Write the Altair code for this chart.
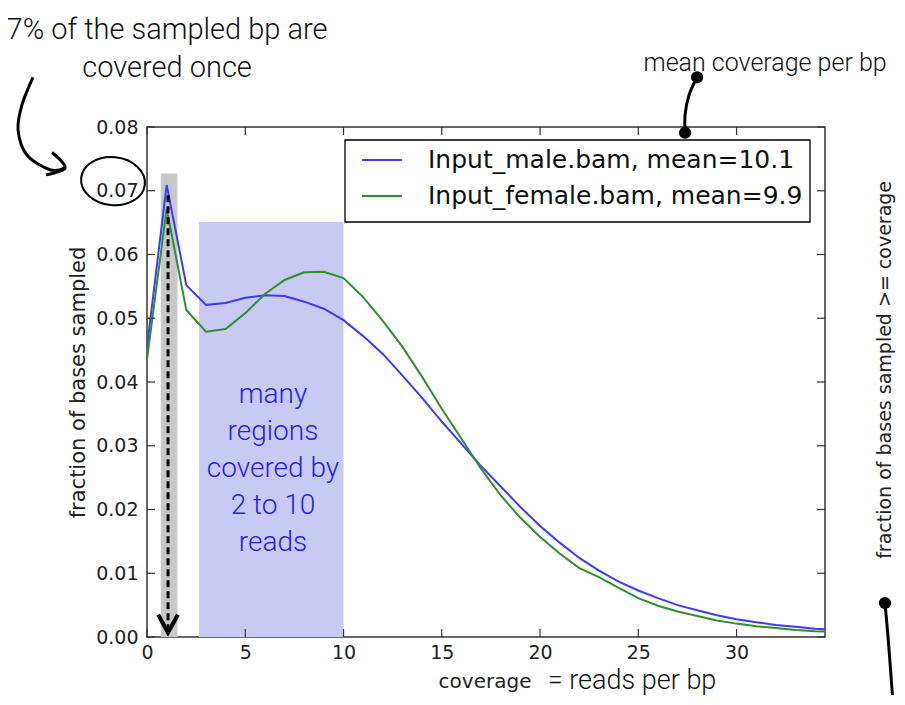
import altair as alt
import pandas as pd

# ---- data ----
coverage = list(range(0, 36))
male = [0.0455, 0.0709, 0.0552, 0.0521, 0.0524, 0.0532, 0.0536, 0.0535, 0.0526, 0.0515,
        0.0497, 0.0472, 0.0444, 0.0410, 0.0375, 0.0338, 0.0303, 0.0268, 0.0236, 0.0204,
        0.0174, 0.0148, 0.0124, 0.0104, 0.0087, 0.0073, 0.0061, 0.0050, 0.0042, 0.0034,
        0.0028, 0.0023, 0.0019, 0.0016, 0.0013, 0.0011]
female = [0.0435, 0.0672, 0.0513, 0.0479, 0.0483, 0.0508, 0.0538, 0.0560, 0.0572, 0.0573,
          0.0563, 0.0533, 0.0496, 0.0455, 0.0408, 0.0358, 0.0311, 0.0264, 0.0222, 0.0187,
          0.0157, 0.0131, 0.0108, 0.0094, 0.0077, 0.0061, 0.0049, 0.0040, 0.0033, 0.0026,
          0.0021, 0.0017, 0.0014, 0.0011, 0.0009, 0.0008]
series_names = ["Input_male.bam, mean=10.1", "Input_female.bam, mean=9.9"]
series_colors = ["#3b3bff", "#2e8f2e"]

x_ticks = [0, 5, 10, 15, 20, 25, 30]
y_ticks = [0.0, 0.01, 0.02, 0.03, 0.04, 0.05, 0.06, 0.07, 0.08]

band_text = ["many", "regions", "covered by", "2 to 10", "reads"]
top_left_text = ["7% of the sampled bp are", "covered once"]

HAND = "Roboto"
SANS = "DejaVu Sans"

xs = alt.Scale(domain=[0, 34.5], nice=False, zero=False)
ys = alt.Scale(domain=[0, 0.08], nice=False, zero=False)

AX = alt.Axis(values=x_ticks, grid=False, domain=False, ticks=False, tickSize=0,
              labelFlush=False, labelPadding=6, labelFontSize=19, labelFont=SANS,
              labelColor="#222", title=None)
AY = alt.Axis(values=y_ticks, format=".2f", grid=False, domain=False, ticks=False,
              tickSize=0, labelFlush=False, labelPadding=9, labelFontSize=19, labelFont=SANS,
              labelColor="#222", title="fraction of bases sampled",
              titleFontSize=21, titleFont=SANS, titleFontWeight="normal",
              titleColor="#222", titlePadding=7)

lines_df = pd.DataFrame({
    "x": coverage * 2,
    "y": male + female,
    "sample": [series_names[0]] * len(coverage) + [series_names[1]] * len(coverage),
})


def X(f, **kw):
    return alt.X(f, scale=xs, axis=AX, **kw)


def Y(f, **kw):
    return alt.Y(f, scale=ys, axis=AY, **kw)


def pt(x, y):
    return pd.DataFrame({"x": [x], "y": [y]})


# highlight bands
gray_band = alt.Chart(pd.DataFrame({"x": [0.7], "x2": [1.55], "y": [0.0], "y2": [0.0727]})).mark_rect(
    color="#c8c8c8").encode(x=X("x:Q"), x2="x2", y=Y("y:Q"), y2="y2")
blue_band = alt.Chart(pd.DataFrame({"x": [2.65], "x2": [10.0], "y": [0.0], "y2": [0.0651]})).mark_rect(
    color="#c8caf3").encode(x=X("x:Q"), x2="x2", y=Y("y:Q"), y2="y2")

lines = alt.Chart(lines_df).mark_line(strokeWidth=2, clip=True).encode(
    x=X("x:Q"), y=Y("y:Q"),
    color=alt.Color("sample:N", scale=alt.Scale(domain=series_names, range=series_colors),
                    legend=None),
)

# legend box drawn in the upper right of the plot
legend_box = alt.Chart(pt(0, 0)).mark_rect(fill="white", stroke="black", strokeWidth=1.3).encode(
    x=alt.value(198), x2=alt.value(663), y=alt.value(13), y2=alt.value(95))
legend_layers = []
for i, (name, col) in enumerate(zip(series_names, series_colors)):
    row_y = 33 + 36 * i
    legend_layers.append(alt.Chart(pd.DataFrame({"name": [name]})).mark_rule(
        color=col, strokeWidth=2).encode(x=alt.value(215), x2=alt.value(255), y=alt.value(row_y)))
    legend_layers.append(alt.Chart(pd.DataFrame({"name": [name]})).mark_text(
        font=SANS, fontSize=25, color="#111", align="left", baseline="middle").encode(
        x=alt.value(281), y=alt.value(row_y), text="name:N"))

# dashed arrow at coverage 1
dash = alt.Chart(pd.DataFrame({"x": [1.07], "y": [0.0693], "y2": [0.0012]})).mark_rule(
    color="black", strokeWidth=3, strokeDash=[7, 4]).encode(x=X("x:Q"), y=Y("y:Q"), y2="y2")
head_df = pd.DataFrame({"x": [0.57, 1.07, 1.57], "y": [0.0035, 0.0007, 0.0035], "o": [0, 1, 2]})
dash_head = alt.Chart(head_df).mark_line(color="black", strokeWidth=4).encode(
    x=X("x:Q"), y=Y("y:Q"), order="o:Q")

# inward ticks on all four sides
xt = pd.DataFrame({"t": x_ticks})
yt = pd.DataFrame({"t": y_ticks})
tick_style = dict(color="#333", strokeWidth=1.2)
tb = alt.Chart(xt).mark_rule(**tick_style).encode(x=X("t:Q"), y=alt.value(510), y2=alt.value(502))
tt = alt.Chart(xt).mark_rule(**tick_style).encode(x=X("t:Q"), y=alt.value(0), y2=alt.value(8))
tl = alt.Chart(yt).mark_rule(**tick_style).encode(y=Y("t:Q"), x=alt.value(0), x2=alt.value(8))
tr = alt.Chart(yt).mark_rule(**tick_style).encode(y=Y("t:Q"), x=alt.value(678), x2=alt.value(670))

# text annotations (multi-line texts are anchored at their first line)
band_label = alt.Chart(pt(6.41, 0.0380)).mark_text(
    text=band_text, font=HAND, fontWeight=300, fontSize=28, lineHeight=37, color="#2222ee",
    align="center", baseline="middle").encode(x=X("x:Q"), y=Y("y:Q"))
tl_label = alt.Chart(pt(1.02, 0.0952)).mark_text(
    text=top_left_text, font=HAND, fontWeight=300, fontSize=29, lineHeight=38, color="#111",
    align="center", baseline="middle").encode(x=X("x:Q"), y=Y("y:Q"))
mean_label = alt.Chart(pt(31.45, 0.0900)).mark_text(
    text="mean coverage per bp", font=HAND, fontWeight=300, fontSize=25, color="#111",
    align="center", baseline="middle").encode(x=X("x:Q"), y=Y("y:Q"))
cov_label = alt.Chart(pt(17.20, -0.0070)).mark_text(
    text="coverage", font=SANS, fontSize=20, color="#222",
    align="center", baseline="middle").encode(x=X("x:Q"), y=Y("y:Q"))
reads_label = alt.Chart(pt(24.68, -0.0069)).mark_text(
    text="= reads per bp", font=HAND, fontWeight=300, fontSize=27, color="#111",
    align="center", baseline="middle").encode(x=X("x:Q"), y=Y("y:Q"))
right_label = alt.Chart(pt(37.55, 0.0419)).mark_text(
    text="fraction of bases sampled >= coverage", font=SANS, fontSize=19, color="#222",
    angle=270, align="center", baseline="middle").encode(x=X("x:Q"), y=Y("y:Q"))

# ellipse around 0.07
ellipse = alt.Chart(pt(-1.73, 0.0715)).mark_point(
    shape="M-1,0A1,0.75 0 1,1 1,0A1,0.75 0 1,1 -1,0Z", size=4096, filled=False,
    color="black", strokeWidth=2, angle=6, opacity=1).encode(x=X("x:Q"), y=Y("y:Q"))

# curved connectors
curve_df = pd.DataFrame({
    "x": [-5.80, -6.36, -6.56, -6.11, -4.94, -4.17,
          -4.83, -4.17, -5.14,
          27.99, 27.58, 27.38, 27.38,
          37.55, 37.72, 37.95],
    "y": [0.0878, 0.0835, 0.0795, 0.0756, 0.0733, 0.0736,
          0.0760, 0.0736, 0.0725,
          0.0878, 0.0850, 0.0819, 0.0791,
          0.00533, -0.00047, -0.0099],
    "o": [0, 1, 2, 3, 4, 5, 0, 1, 2, 0, 1, 2, 3, 0, 1, 2],
    "g": ["a"] * 6 + ["h"] * 3 + ["m"] * 4 + ["r"] * 3,
})
curves = alt.Chart(curve_df).mark_line(color="black", strokeWidth=3, interpolate="cardinal").encode(
    x=X("x:Q"), y=Y("y:Q"), order="o:Q", detail="g:N")
dots = alt.Chart(pd.DataFrame({"x": [27.99, 27.38, 37.55], "y": [0.0878, 0.0791, 0.00533]})).mark_circle(
    color="black", size=150, opacity=1).encode(x=X("x:Q"), y=Y("y:Q"))

chart = alt.layer(
    gray_band, blue_band, lines, dash, dash_head, tb, tt, tl, tr,
    legend_box, *legend_layers,
    band_label, tl_label, mean_label, cov_label, reads_label, right_label,
    ellipse, curves, dots,
).properties(
    width=678, height=510,
    autosize=alt.AutoSizeParams(type="none"),
    padding={"left": 139, "top": 119, "right": 72, "bottom": 58},
).configure_view(stroke="#333", strokeWidth=1.5)

chart.save("out.html", embed_options={"renderer": "svg", "actions": False})
